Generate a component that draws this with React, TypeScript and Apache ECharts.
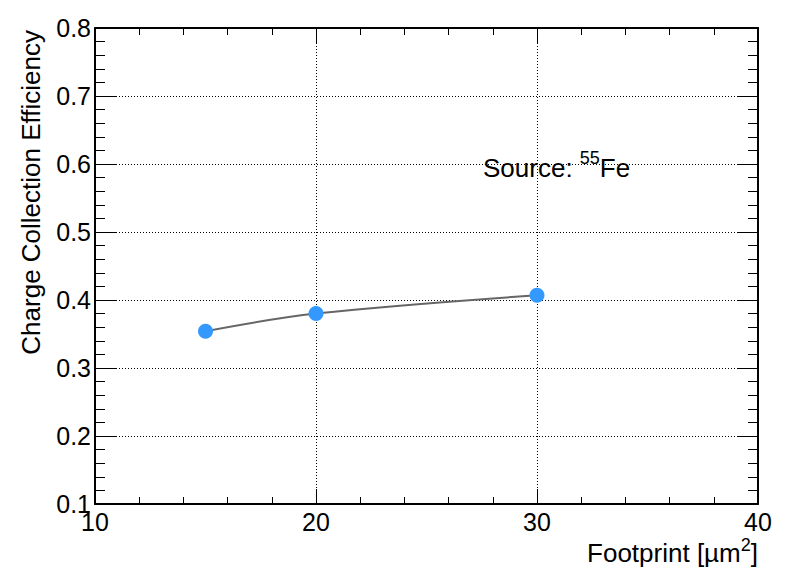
import React, { useEffect, useRef } from "react";
import * as echarts from "echarts";

const footprints = [15, 20, 30];
const efficiencies = [0.354, 0.38, 0.407];
const xMin = 10, xMax = 40, xStep = 10;
const yMin = 0.1, yMax = 0.8, yStep = 0.1;

const FONT = "'Liberation Sans', Arial, Helvetica, sans-serif";

function measure(text: string, size: number): number {
  const c = document.createElement("canvas").getContext("2d");
  if (!c) return text.length * size * 0.55;
  c.font = `${size}px ${FONT}`;
  return c.measureText(text).width;
}

export default function App() {
  const ref = useRef<HTMLDivElement>(null);
  useEffect(() => {
    if (!ref.current) return;
    const chart = echarts.init(ref.current, null, { renderer: "svg" });
    const T = 26;
    const S = 18;
    const xRight = 758;
    const xMid = 553;
    const wBr = measure("]", T);
    const wSup = measure("2", S);
    const sx = 483;
    const sMid = 168;
    const wSrc = measure("Source: ", T);
    const w55 = measure("55", S);
    const axisLine = { show: true, lineStyle: { color: "#000", width: 2 } };
    const split = { show: true, lineStyle: { color: "#000", width: 1, type: [1, 2] as any } };
    const txt = (text: string, x: number, y: number, size: number, align: string) => ({
      type: "text", x, y,
      style: { text, font: `${size}px ${FONT}`, fill: "#000", textAlign: align, textVerticalAlign: "middle" },
    });
    chart.setOption({
      animation: false,
      grid: { left: 95, right: 40, top: 28, bottom: 69, containLabel: false },
      xAxis: [
        {
          type: "value", position: "bottom", min: xMin, max: xMax, interval: xStep,
          axisLine, axisTick: { show: true, inside: true, length: 15, lineStyle: { color: "#000", width: 1 } },
          minorTick: { show: true, splitNumber: 5, length: 7, lineStyle: { color: "#000", width: 1 } },
          axisLabel: { show: true, margin: 5, color: "#000", fontSize: 25, fontFamily: FONT, formatter: (v: number) => String(v) },
          splitLine: split,
        },
        {
          type: "value", position: "top", min: xMin, max: xMax, interval: xStep,
          axisLine, axisTick: { show: true, inside: true, length: 15, lineStyle: { color: "#000", width: 1 } },
          minorTick: { show: true, splitNumber: 5, length: 7, lineStyle: { color: "#000", width: 1 } },
          axisLabel: { show: false }, splitLine: { show: false },
        },
      ],
      yAxis: [
        {
          type: "value", position: "left", min: yMin, max: yMax, interval: yStep,
          axisLine, axisTick: { show: true, inside: true, length: 21, lineStyle: { color: "#000", width: 1 } },
          minorTick: { show: true, splitNumber: 5, length: 10, lineStyle: { color: "#000", width: 1 } },
          axisLabel: { show: true, margin: 4, color: "#000", fontSize: 25, fontFamily: FONT, formatter: (v: number) => v.toFixed(1) },
          splitLine: split,
        },
        {
          type: "value", position: "right", min: yMin, max: yMax, interval: yStep,
          axisLine, axisTick: { show: true, inside: true, length: 21, lineStyle: { color: "#000", width: 1 } },
          minorTick: { show: true, splitNumber: 5, length: 10, lineStyle: { color: "#000", width: 1 } },
          axisLabel: { show: false }, splitLine: { show: false },
        },
      ],
      series: [
        {
          type: "line",
          xAxisIndex: 0, yAxisIndex: 0,
          data: footprints.map((x, i) => [x, efficiencies[i]]),
          smooth: 0.35,
          symbol: "circle",
          symbolSize: 15,
          itemStyle: { color: "#3399ff" },
          lineStyle: { color: "#666666", width: 2 },
          z: 5,
        },
      ],
      graphic: [
        {
          type: "text", x: 31, y: 30, rotation: Math.PI / 2,
          style: { text: "Charge Collection Efficiency", font: `${T}px ${FONT}`, fill: "#000", textAlign: "right", textVerticalAlign: "middle" },
        },
        txt("]", xRight, xMid, T, "right"),
        txt("2", xRight - wBr, xMid - 8, S, "right"),
        txt("Footprint [µm", xRight - wBr - wSup, xMid, T, "right"),
        txt("Source: ", sx, sMid, T, "left"),
        txt("55", sx + wSrc, sMid - 10, S, "left"),
        txt("Fe", sx + wSrc + w55, sMid, T, "left"),
      ],
    });
    return () => chart.dispose();
  }, []);
  return (
    <div
      ref={ref}
      style={{ position: "fixed", left: 0, top: 0, width: 798, height: 573, background: "#fff" }}
    />
  );
}
